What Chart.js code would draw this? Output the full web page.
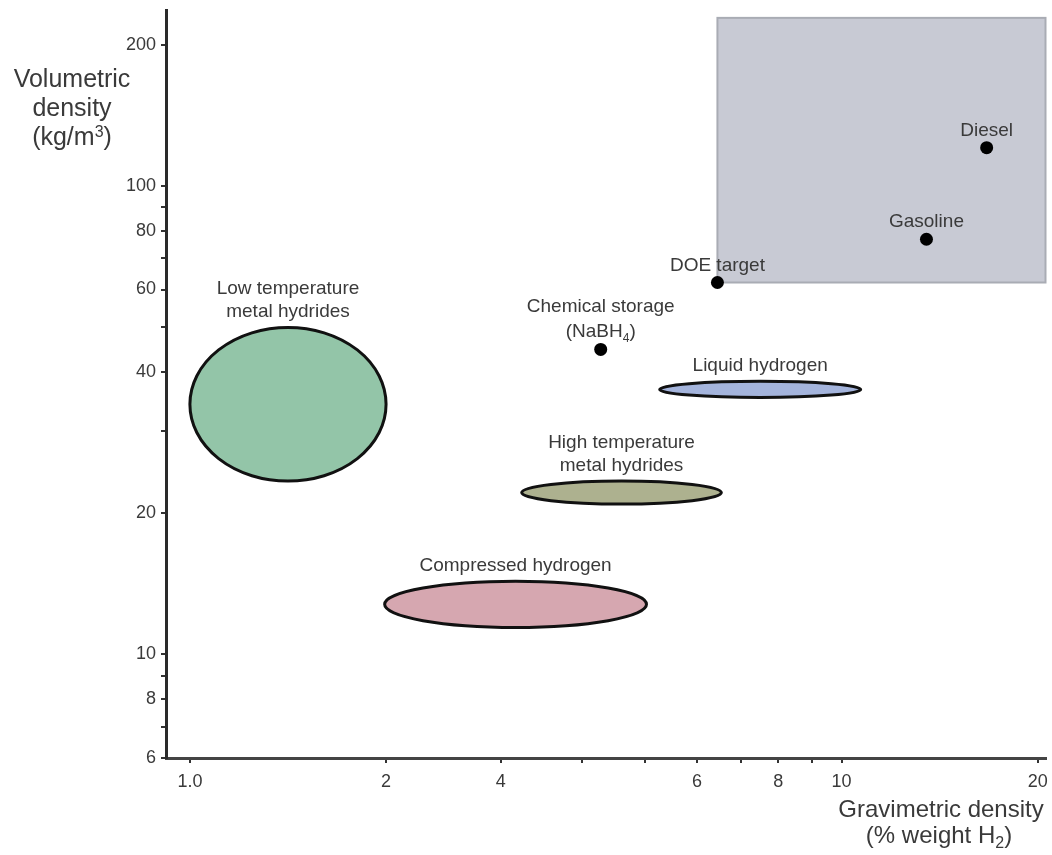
<!DOCTYPE html>
<html>
<head>
<meta charset="utf-8">
<script src="https://cdn.jsdelivr.net/npm/chart.js@4.4.1/dist/chart.umd.min.js"></script>
<style>
  body { margin: 0; background: #fff; }
  #wrap { width: 1052px; height: 855px; }
</style>
</head>
<body>
<div id="wrap"><canvas id="storageChart"></canvas></div>
<script>
// ticks (the reference labels its 3 % tick as "4", kept as drawn)
var xTickValues = [1, 2, 3, 4, 5, 6, 7, 8, 9, 10, 20];
var xTickLabels = ['1.0', '2', '4', '', '', '6', '', '8', '', '10', '20'];
var yTickValues = [6, 7, 8, 9, 10, 20, 30, 40, 50, 60, 70, 80, 90, 100, 200];
var yTickLabels = ['6', '', '8', '', '10', '20', '', '40', '', '60', '', '80', '', '100', '200'];

// storage regions (ellipses), bounds in % weight and kg/m3
var regionNames = ['Low temperature\nmetal hydrides', 'Liquid hydrogen', 'High temperature\nmetal hydrides', 'Compressed hydrogen'];
var regionXMin = [1.0, 5.26, 3.23, 1.99];
var regionXMax = [2.0, 10.7, 6.54, 5.02];
var regionYMin = [23.4, 35.3, 20.9, 11.4];
var regionYMax = [49.8, 38.2, 23.4, 14.3];
var regionColors = ['#93c5a8', '#a4b4dc', '#adb18f', '#d6a7b0'];

// single points
var pointNames = ['DOE target', 'Chemical storage\n(NaBH_4)', 'Gasoline', 'Diesel'];
var pointX = [6.45, 4.27, 13.5, 16.7];
var pointY = [62.1, 44.7, 76.8, 120.5];

// shaded target zone, from the DOE target up and right
var targetXMin = 6.45;
var targetYMin = 62.1;
var targetYMax = 228;

var FONT = '"Liberation Sans", Arial, sans-serif';
var TEXT = '#3a3a3a';

// text with _x subscripts and ^x superscripts, centred on cx
function drawRich(ctx, str, cx, baseline, size) {
    var segs = [];
    for (var i = 0; i < str.length; i++) {
        var c = str[i];
        if ((c === '_' || c === '^') && i + 1 < str.length) {
            segs.push({ t: str[i + 1], k: c });
            i++;
        } else if (segs.length && !segs[segs.length - 1].k) {
            segs[segs.length - 1].t += c;
        } else {
            segs.push({ t: c, k: null });
        }
    }
    var total = 0;
    segs.forEach(function (s) {
        s.size = s.k ? Math.round(size * 0.65) : size;
        ctx.font = s.size + 'px ' + FONT;
        s.w = ctx.measureText(s.t).width;
        total += s.w;
    });
    var x = cx - total / 2;
    ctx.textAlign = 'left';
    ctx.textBaseline = 'alphabetic';
    segs.forEach(function (s) {
        ctx.font = s.size + 'px ' + FONT;
        var dy = s.k === '_' ? size * 0.22 : (s.k === '^' ? -size * 0.32 : 0);
        ctx.fillText(s.t, x, baseline + dy);
        x += s.w;
    });
}

function drawLabel(ctx, text, cx, lastBaseline, size, gap) {
    var lines = text.split('\n');
    for (var i = 0; i < lines.length; i++) {
        drawRich(ctx, lines[i], cx, lastBaseline - (lines.length - 1 - i) * gap, size);
    }
}

var storagePlugin = {
    id: 'storageShapes',
    beforeDatasetsDraw: function (chart) {
        var ctx = chart.ctx, xs = chart.scales.x, ys = chart.scales.y;
        ctx.save();
        // target zone
        var bx1 = xs.getPixelForValue(targetXMin);
        var bx2 = chart.chartArea.right;
        var by1 = ys.getPixelForValue(targetYMax);
        var by2 = ys.getPixelForValue(targetYMin);
        ctx.fillStyle = '#c8cad4';
        ctx.fillRect(bx1, by1, bx2 - bx1, by2 - by1);
        ctx.strokeStyle = '#a9acb4';
        ctx.lineWidth = 2;
        ctx.strokeRect(bx1, by1, bx2 - bx1, by2 - by1);
        // ellipses
        for (var i = 0; i < regionNames.length; i++) {
            var x1 = xs.getPixelForValue(regionXMin[i]);
            var x2 = xs.getPixelForValue(regionXMax[i]);
            var y1 = ys.getPixelForValue(regionYMax[i]);
            var y2 = ys.getPixelForValue(regionYMin[i]);
            ctx.beginPath();
            ctx.ellipse((x1 + x2) / 2, (y1 + y2) / 2, Math.abs(x2 - x1) / 2, Math.abs(y2 - y1) / 2, 0, 0, Math.PI * 2);
            ctx.fillStyle = regionColors[i];
            ctx.fill();
            ctx.lineWidth = 3;
            ctx.strokeStyle = '#111';
            ctx.stroke();
        }
        ctx.restore();
    },
    afterDatasetsDraw: function (chart) {
        var ctx = chart.ctx, xs = chart.scales.x, ys = chart.scales.y;
        ctx.save();
        ctx.fillStyle = TEXT;
        for (var i = 0; i < regionNames.length; i++) {
            var cx = (xs.getPixelForValue(regionXMin[i]) + xs.getPixelForValue(regionXMax[i])) / 2;
            var top = ys.getPixelForValue(regionYMax[i]);
            drawLabel(ctx, regionNames[i], cx, top - 10, 19, 23);
        }
        for (var j = 0; j < pointNames.length; j++) {
            var px = xs.getPixelForValue(pointX[j]);
            var py = ys.getPixelForValue(pointY[j]);
            drawLabel(ctx, pointNames[j], px, py - 12, 19, 25);
        }
        ctx.restore();
    },
    afterDraw: function (chart) {
        var ctx = chart.ctx;
        ctx.save();
        ctx.fillStyle = TEXT;
        drawRich(ctx, 'Volumetric', 72, 87, 25);
        drawRich(ctx, 'density', 72, 116, 25);
        drawRich(ctx, '(kg/m^3)', 72, 145, 25);
        drawRich(ctx, 'Gravimetric density', 941, 817, 24);
        drawRich(ctx, '(% weight H_2)', 939, 843, 24);
        ctx.restore();
    }
};

var ctx = document.getElementById('storageChart').getContext('2d');
var storageChart = new Chart(ctx, {
    type: 'scatter',
    data: {
        datasets: [{
            label: 'Fuels',
            data: pointX.map(function (x, i) { return { x: x, y: pointY[i] }; }),
            backgroundColor: '#000',
            borderWidth: 0,
            pointRadius: 6.5,
            pointHoverRadius: 6.5
        }]
    },
    options: {
        responsive: true,
        maintainAspectRatio: false,
        animation: false,
        layout: { padding: { top: 10, right: 0, left: 0, bottom: 0 } },
        plugins: {
            legend: { display: false },
            tooltip: { enabled: false }
        },
        scales: {
            x: {
                type: 'logarithmic',
                min: 0.919,
                max: 20.56,
                afterBuildTicks: function (scale) {
                    scale.ticks = xTickValues.map(function (v) { return { value: v }; });
                },
                afterFit: function (scale) {
                    scale.height = 97;
                    scale.paddingLeft = 0;
                    scale.paddingRight = 0;
                },
                ticks: {
                    autoSkip: false,
                    maxRotation: 0,
                    padding: 8,
                    color: TEXT,
                    font: { size: 18, family: FONT },
                    callback: function (v, i) { return xTickLabels[i]; }
                },
                grid: { drawOnChartArea: false, drawTicks: true, tickLength: 5, color: '#333', lineWidth: 2 },
                border: { display: true, color: '#444', width: 3 }
            },
            y: {
                type: 'logarithmic',
                min: 6,
                max: 237,
                afterBuildTicks: function (scale) {
                    scale.ticks = yTickValues.map(function (v) { return { value: v }; });
                },
                afterFit: function (scale) {
                    scale.width = 166;
                    scale.paddingTop = 0;
                    scale.paddingBottom = 0;
                },
                ticks: {
                    autoSkip: false,
                    padding: 5,
                    color: TEXT,
                    font: { size: 18, family: FONT },
                    callback: function (v, i) { return yTickLabels[i]; }
                },
                grid: { drawOnChartArea: false, drawTicks: true, tickLength: 5, color: '#333', lineWidth: 2 },
                border: { display: true, color: '#2a2a2a', width: 3 }
            }
        }
    },
    plugins: [storagePlugin]
});
</script>
</body>
</html>
